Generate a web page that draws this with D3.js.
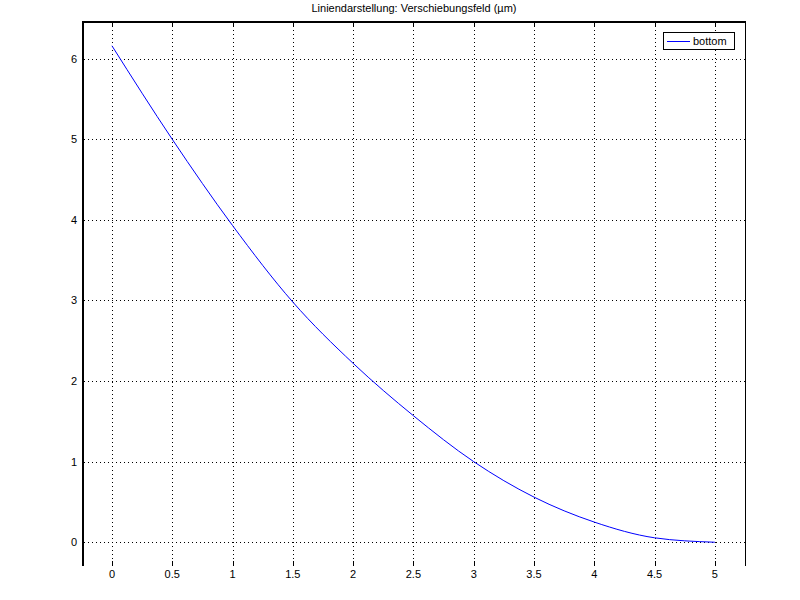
<!DOCTYPE html>
<html><head><meta charset="utf-8">
<script src="https://cdn.jsdelivr.net/npm/d3@7"></script>
<style>body{margin:0;background:#fff}svg{display:block}text{font-family:"Liberation Sans",Arial,sans-serif;font-size:11px;fill:#000}</style>
</head><body><svg id="c" width="800" height="600"></svg>
<script>
const title = "Liniendarstellung: Verschiebungsfeld (µm)";
const seriesName = "bottom";
const xs = [0, 0.5, 1, 1.5, 2, 2.5, 3, 3.5, 4, 4.5, 5];
const ys = [6.16, 5.0, 3.93, 2.98, 2.22, 1.57, 1.0, 0.56, 0.25, 0.055, 0.0];
const xTicks = [0, 0.5, 1, 1.5, 2, 2.5, 3, 3.5, 4, 4.5, 5];
const yTicks = [0, 1, 2, 3, 4, 5, 6];

const svg = d3.select("#c");
const L = 83, R = 745, T = 22, B = 566;
const x = d3.scaleLinear().domain([-0.24, 5.25]).range([L, R]);
const y = d3.scaleLinear().domain([-0.295, 6.455]).range([B, T]);

// grid
const g = svg.append("g");
g.selectAll("line.vx").data(xTicks).join("line")
  .attr("x1", d => Math.round(x(d)) + 0.5).attr("x2", d => Math.round(x(d)) + 0.5)
  .attr("y1", T).attr("y2", B)
  .attr("stroke", "#000").attr("stroke-dasharray", "1,3");
g.selectAll("line.hy").data(yTicks).join("line")
  .attr("y1", d => Math.round(y(d)) + 0.5).attr("y2", d => Math.round(y(d)) + 0.5)
  .attr("x1", L + 1).attr("x2", R)
  .attr("stroke", "#000").attr("stroke-dasharray", "1,3");
// ticks top & bottom
g.selectAll("line.tb").data(xTicks).join("line")
  .attr("x1", d => Math.round(x(d)) + 0.5).attr("x2", d => Math.round(x(d)) + 0.5)
  .attr("y1", B - 5).attr("y2", B).attr("stroke", "#000");
g.selectAll("line.tt").data(xTicks).join("line").attr("class","tt")
  .attr("x1", d => Math.round(x(d)) + 0.5).attr("x2", d => Math.round(x(d)) + 0.5)
  .attr("y1", T).attr("y2", T + 5).attr("stroke", "#000");

// frame
svg.append("line").attr("x1", L).attr("x2", R + 1).attr("y1", T).attr("y2", T).attr("stroke", "#000").attr("stroke-width", 2);
svg.append("line").attr("x1", L).attr("x2", L).attr("y1", T - 1).attr("y2", B).attr("stroke", "#000").attr("stroke-width", 2);
svg.append("line").attr("x1", R + 0.5).attr("x2", R + 0.5).attr("y1", T).attr("y2", B).attr("stroke", "#000").attr("stroke-width", 1);

// labels
svg.selectAll("text.xl").data(xTicks).join("text")
  .attr("x", d => x(d)).attr("y", 578).attr("text-anchor", "middle").text(d => d);
svg.selectAll("text.yl").data(yTicks).join("text").attr("class","yl")
  .attr("x", 74).attr("y", d => y(d) + 4).attr("text-anchor", "middle").text(d => d);
svg.append("text").attr("x", 414).attr("y", 12).attr("text-anchor", "middle").text(title);

// curve
const line = d3.line().x((d, i) => x(xs[i])).y(d => y(d)).curve(d3.curveMonotoneX);
svg.append("path").datum(ys).attr("d", line).attr("fill", "none").attr("stroke", "#0000ff").attr("stroke-width", 1);

// legend
svg.append("rect").attr("x", 663.5).attr("y", 32.5).attr("width", 71).attr("height", 17).attr("fill", "#fff").attr("stroke", "#000");
svg.append("line").attr("x1", 667).attr("x2", 690).attr("y1", 41.5).attr("y2", 41.5).attr("stroke", "#0000ff");
svg.append("text").attr("x", 693).attr("y", 45).text(seriesName);
</script></body></html>
